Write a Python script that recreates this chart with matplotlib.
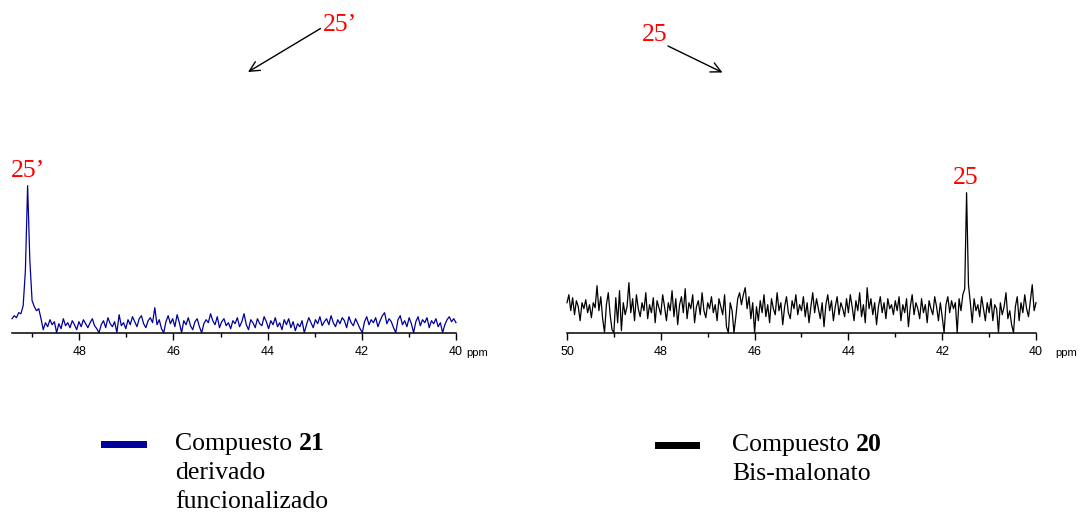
import matplotlib
matplotlib.use("Agg")
import matplotlib.pyplot as plt
import numpy as np
from matplotlib.patches import FancyArrowPatch, Rectangle
from matplotlib.ticker import MultipleLocator

W, H = 1083, 515

# ---------------------------------------------------------------- data
# Compuesto 21 (blue), 49.43 -> 40.0 ppm, intensity in arbitrary units
left_ppm_range = (49.43, 40.0)
left_vals = [
    14, 17, 15, 20, 19, 27, 62, 147, 72, 32, 26, 22, 24, 14, 3, 10, 6, 13, 8, 11,
    0, 9, 4, 14, 7, 10, 5, 12, 8, 3, 11, 6, 13, 9, 5, 10, 14, 7, 4, 0,
    8, 12, 5, 15, 9, 6, 11, 0, 18, 7, 10, 4, 13, 8, 16, 11, 6, 14, 17, 9,
    5, 12, 15, 10, 25, 8, 13, 4, 0, 11, 17, 9, 14, 6, 18, 10, 0, 12, 8, 15,
    7, 3, 11, 14, 6, 0, 9, 13, 10, 19, 12, 8, 16, 5, 11, 14, 7, 10, 4, 12,
    9, 15, 6, 11, 19, 8, 3, 13, 10, 5, 14, 9, 7, 16, 11, 4, 12, 8, 15, 6,
    10, 3, 13, 8, 14, 5, 11, 2, 9, 6, 12, 0, 8, 15, 10, 5, 13, 9, 16, 7,
    11, 14, 8, 17, 10, 6, 13, 9, 15, 12, 5, 16, 10, 7, 14, 9, 4, 0, 11, 16,
    8, 13, 10, 15, 6, 12, 17, 20, 9, 14, 11, 5, 0, 13, 17, 8, 12, 6, 15, 9,
    0, 11, 16, 7, 13, 10, 15, 5, 12, 9, 14, 6, 10, 0, 8, 13, 16, 11, 14, 10,
]

# Compuesto 20 (black), 50.0 -> 40.0 ppm
right_ppm_range = (50.0, 40.0)
right_vals = [
    30, 38, 22, 35, 18, 32, 26, 12, 30, 24, 33, 20, 28, 15, 30, 25, 47, 22, 36, 14, 0, 28, 40, 18, 3,
    0, 35, 10, 42, 2, 30, 18, 26, 50, 20, 34, 12, 38, 24, 16, 30, 22, 40, 14, 28, 20, 35, 10, 32, 25,
    18, 38, 26, 12, 30, 22, 42, 16, 34, 8, 28, 36, 20, 44, 14, 30, 24, 38, 10, 26, 32, 18, 40, 22, 15,
    30, 24, 36, 20, 28, 12, 34, 26, 18, 38, 6, 0, 30, 22, 0, 16, 34, 40, 28, 38, 45, 24, 36, 14, 30,
    0, 26, 12, 32, 20, 38, 16, 28, 10, 34, 24, 18, 40, 22, 30, 8, 26, 36, 20, 14, 32, 24, 38, 18, 28,
    22, 36, 16, 30, 10, 26, 40, 20, 34, 24, 14, 30, 6, 28, 38, 22, 32, 12, 26, 36, 18, 30, 24, 16, 34,
    20, 38, 26, 12, 32, 22, 40, 16, 28, 10, 45, 24, 34, 18, 30, 8, 26, 36, 20, 30, 14, 34, 24, 28, 18,
    32, 22, 36, 12, 28, 20, 34, 6, 26, 38, 18, 30, 24, 14, 34, 20, 28, 10, 32, 24, 18, 36, 26, 12, 30,
    16, 0, 28, 36, 20, 32, 24, 30, 0, 34, 22, 38, 44, 140, 48, 30, 10, 34, 22, 28, 16, 36, 24, 12, 30,
    20, 34, 12, 28, 24, 0, 30, 18, 26, 40, 14, 22, 8, 0, 26, 36, 12, 30, 20, 38, 24, 16, 32, 48, 22,
    30,
]

peak_left = (49.1, "25\u2019")
peak_right = (41.5, "25")

legend_left = ["Compuesto ", "21", "derivado", "funcionalizado"]
legend_right = ["Compuesto ", "20", "Bis-malonato"]

BLUE = "#00009c"
RED = "#ff0000"
SERIF = "Liberation Serif"
SANS = "Liberation Sans"
FS = 18.5


def fx(x):
    return x / W


def fy(y):
    return 1 - y / H


def style_axis(ax, xlim):
    ax.set_xlim(*xlim)
    ax.set_ylim(0, 160)
    for s in ("left", "right", "top"):
        ax.spines[s].set_visible(False)
    ax.spines["bottom"].set_linewidth(1.1)
    ax.set_yticks([])
    ax.xaxis.set_major_locator(MultipleLocator(2))
    ax.xaxis.set_minor_locator(MultipleLocator(1))
    ax.xaxis.set_major_formatter(plt.FuncFormatter(lambda v, p: f"{v:.0f}"))
    ax.tick_params(axis="x", which="major", direction="out", length=5, width=1.0,
                   labelsize=9, pad=4.5)
    ax.tick_params(axis="x", which="minor", direction="out", length=3, width=1.0)
    ax.patch.set_alpha(0)


fig = plt.figure(figsize=(W / 100, H / 100), dpi=100)

# spectra panels: bottom at y=332.7 px, 1 unit = 1 px
ax1 = fig.add_axes([fx(12), fy(332.7), 444 / W, 160 / H])
ax2 = fig.add_axes([fx(567), fy(332.7), 469 / W, 160 / H])

x1 = np.linspace(*left_ppm_range, len(left_vals))
x2 = np.linspace(*right_ppm_range, len(right_vals))
ax1.plot(x1, left_vals, color=BLUE, lw=0.9, clip_on=False)
ax2.plot(x2, right_vals, color="black", lw=0.9, clip_on=False)
style_axis(ax1, left_ppm_range)
style_axis(ax2, right_ppm_range)
for ax in (ax1, ax2):
    for lab in ax.get_xticklabels():
        lab.set_fontfamily(SANS)

# peak labels
ax1.text(peak_left[0], max(left_vals) + 15, peak_left[1], color=RED, fontsize=FS,
         family=SERIF, ha="center", va="center")
ax2.text(peak_right[0], max(right_vals) + 15, peak_right[1], color=RED, fontsize=FS,
         family=SERIF, ha="center", va="center")

# ppm units
fig.text(fx(466), fy(353), "ppm", fontsize=8, family=SANS, va="center", ha="left")
fig.text(fx(1055), fy(353), "ppm", fontsize=8, family=SANS, va="center", ha="left")

# top annotations with arrows
fig.text(fx(340), fy(25), "25\u2019", color=RED, fontsize=FS, family=SERIF,
         ha="center", va="center")
fig.text(fx(655), fy(35), "25", color=RED, fontsize=FS, family=SERIF,
         ha="center", va="center")
for a, b in [((320.5, 28.5), (248, 72)), ((668, 46), (722.5, 72.5))]:
    fig.add_artist(FancyArrowPatch((fx(a[0]), fy(a[1])), (fx(b[0]), fy(b[1])),
                                   transform=fig.transFigure, arrowstyle="->",
                                   mutation_scale=18, lw=1.0, color="black",
                                   shrinkA=0, shrinkB=0))

# legend blocks
fig.add_artist(Rectangle((fx(101), fy(448)), 46 / W, 7 / H, transform=fig.transFigure,
                         color=BLUE, lw=0))
fig.add_artist(Rectangle((fx(655), fy(449)), 45 / W, 7 / H, transform=fig.transFigure,
                         color="black", lw=0))

fig.canvas.draw()
renderer = fig.canvas.get_renderer()


def legend_block(x, y0, lines, step=29):
    t = fig.text(fx(x), fy(y0), lines[0], fontsize=FS, family=SERIF,
                 ha="left", va="baseline")
    bb = t.get_window_extent(renderer=renderer)
    fig.text(bb.x1 / W, fy(y0), lines[1], fontsize=FS, family=SERIF,
             weight="bold", ha="left", va="baseline")
    for i, line in enumerate(lines[2:], start=1):
        fig.text(fx(x), fy(y0 + i * step), line, fontsize=FS, family=SERIF,
                 ha="left", va="baseline")


legend_block(175, 450, legend_left)
legend_block(732, 451, legend_right)

fig.savefig("out.png", dpi=100)
